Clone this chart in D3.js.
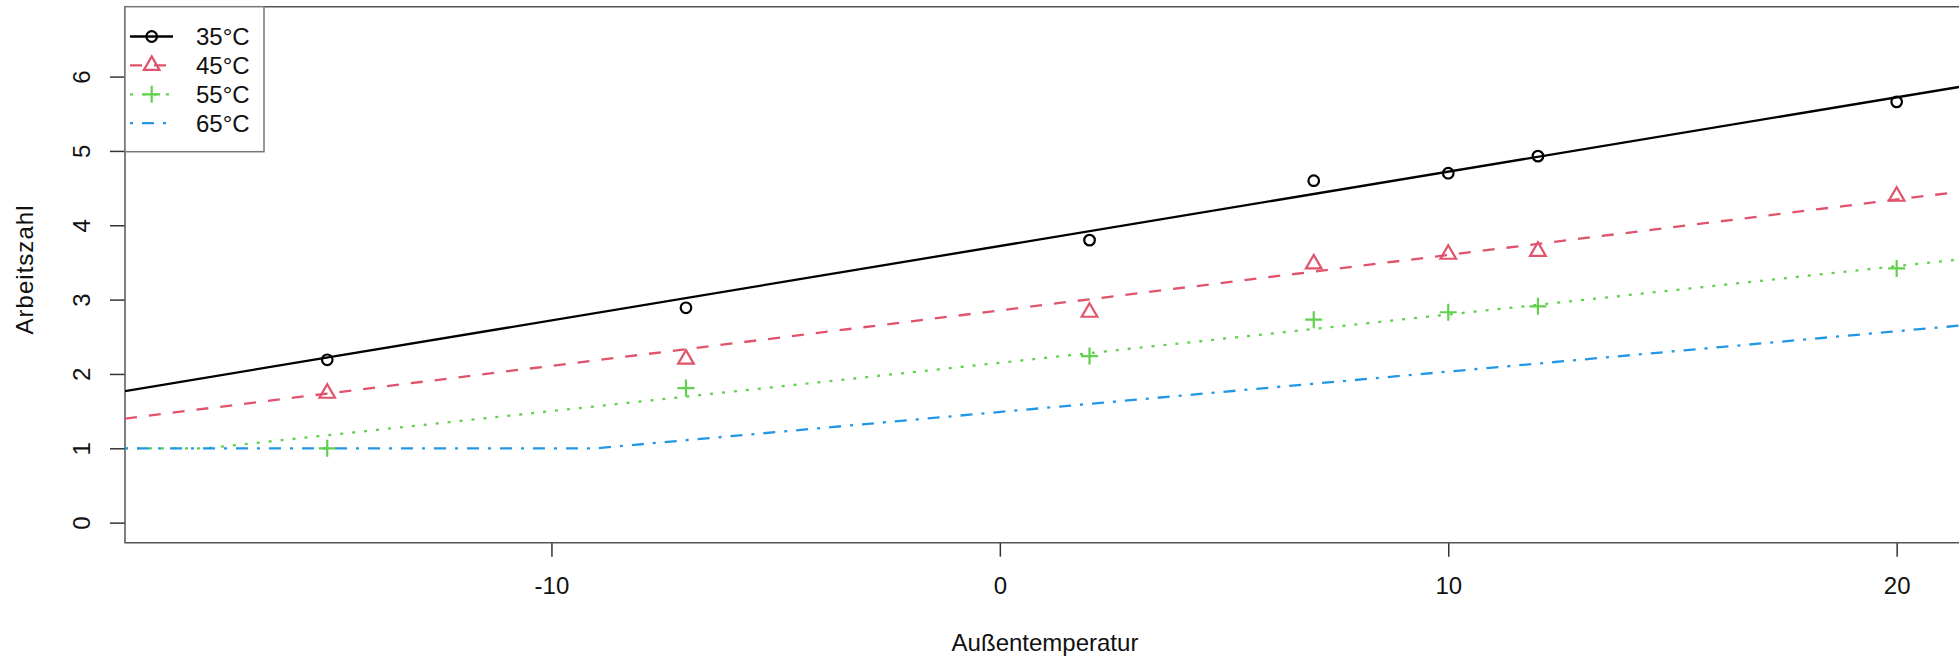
<!DOCTYPE html>
<html>
<head>
<meta charset="utf-8">
<script src="https://cdn.jsdelivr.net/npm/d3@7"></script>
<style>
  html, body { margin: 0; padding: 0; background: #fff; overflow: hidden; }
  svg { display: block; font-family: "Liberation Sans", Arial, Helvetica, sans-serif; }
</style>
</head>
<body>
<div id="chart"></div>
<script>
// Measured points (Außentemperatur vs. Arbeitszahl)
var temps = [-15, -7, 2, 7, 10, 12, 20];
var az35 = [2.19, 2.89, 3.80, 4.60, 4.70, 4.93, 5.66];
var az45 = [1.74, 2.20, 2.83, 3.48, 3.61, 3.65, 4.39];
var az55 = [1.00, 1.81, 2.24, 2.73, 2.83, 2.91, 3.42];

// Fitted lines (vertices, clamped at 1)
var fitX35 = [-19.51, 21.39];
var fit35 = [1.77, 5.86];
var fitX45 = [-19.51, 21.39];
var fit45 = [1.40, 4.45];
var fitX55 = [-19.51, -17.7, 21.39];
var fit55 = [1.00, 1.00, 3.54];
var fitX65 = [-19.51, -9.0, 21.39];
var fit65 = [1.00, 1.00, 2.65];

var seriesNames = ["35°C", "45°C", "55°C", "65°C"];
var xTicks = [-10, 0, 10, 20];
var yTicks = [0, 1, 2, 3, 4, 5, 6];

// styling per series
var colors = ["#000000", "#DF536B", "#61D04F", "#2297E6"];
var dashes = [null, "12,12", "3,9", "3,9,12,9"];
var markers = ["circle", "triangle", "plus", null];

var svgWidth = 1959;
var svgHeight = 656;
var plot = { left: 125, top: 6.7, bottom: 542.7, right: 1959 };

var svg = d3.select("#chart")
  .append("svg")
  .attr("width", svgWidth)
  .attr("height", svgHeight);

var xScale = d3.scaleLinear()
  .domain([-19.51, 21.39])
  .range([plot.left, plot.right]);
var yScale = d3.scaleLinear()
  .domain([-0.27, 6.94])
  .range([plot.bottom, plot.top]);

svg.append("clipPath")
  .attr("id", "plotclip")
  .append("rect")
  .attr("x", plot.left)
  .attr("y", plot.top)
  .attr("width", plot.right - plot.left + 10)
  .attr("height", plot.bottom - plot.top);

// x axis (plain hyphen for negatives, like R)
var xAxis = svg.append("g")
  .attr("transform", `translate(0, ${plot.bottom})`)
  .call(d3.axisBottom(xScale).tickValues(xTicks).tickSize(14).tickFormat(d => String(d)));
xAxis.select(".domain").remove();
xAxis.selectAll("line").attr("stroke", "#333").attr("stroke-width", 1.5);
xAxis.selectAll("text")
  .attr("y", 51.3)
  .attr("dy", null)
  .attr("fill", "#111")
  .style("font-size", "24px");

// y axis, labels turned like R does
var yAxis = svg.append("g")
  .attr("transform", `translate(${plot.left}, 0)`)
  .call(d3.axisLeft(yScale).tickValues(yTicks).tickSize(15));
yAxis.select(".domain").remove();
yAxis.selectAll("line").attr("stroke", "#333").attr("stroke-width", 1.5);
yAxis.selectAll("text")
  .attr("x", null)
  .attr("dy", null)
  .attr("transform", "translate(-35, 0) rotate(-90)")
  .attr("text-anchor", "middle")
  .attr("fill", "#111")
  .style("font-size", "24px");

// plot box (right side is cut off by the window)
svg.append("path")
  .attr("d", `M${plot.right + 5},${plot.top}H${plot.left}V${plot.bottom}H${plot.right + 5}`)
  .attr("fill", "none")
  .attr("stroke", "#555")
  .attr("stroke-width", 1.5);

// axis titles
svg.append("text")
  .attr("x", 1045)
  .attr("y", 650.5)
  .attr("text-anchor", "middle")
  .attr("fill", "#111")
  .style("font-size", "24px")
  .text("Außentemperatur");
svg.append("text")
  .attr("transform", "translate(33, 270) rotate(-90)")
  .attr("text-anchor", "middle")
  .attr("textLength", 129)
  .attr("lengthAdjust", "spacing")
  .attr("fill", "#111")
  .style("font-size", "24px")
  .text("Arbeitszahl");

var chartGroup = svg.append("g").attr("clip-path", "url(#plotclip)");

var line = d3.line()
  .x(d => xScale(d[0]))
  .y(d => yScale(d[1]));

var fits = [
  d3.zip(fitX35, fit35),
  d3.zip(fitX45, fit45),
  d3.zip(fitX55, fit55),
  d3.zip(fitX65, fit65)
];
fits.forEach(function(f, i) {
  chartGroup.append("path")
    .datum(f)
    .attr("d", line)
    .attr("fill", "none")
    .attr("stroke", colors[i])
    .attr("stroke-width", 2.3)
    .attr("stroke-dasharray", dashes[i]);
});

// marker drawing
function drawMarker(g, type, cx, cy, color) {
  if (type === "circle") {
    g.append("circle")
      .attr("cx", cx).attr("cy", cy).attr("r", 5.3)
      .attr("fill", "none").attr("stroke", color).attr("stroke-width", 2.2);
  } else if (type === "triangle") {
    var r = 9, xc = r * 0.866, yc = r / 2;
    g.append("path")
      .attr("d", `M${cx},${cy - r}L${cx + xc},${cy + yc}L${cx - xc},${cy + yc}Z`)
      .attr("fill", "none").attr("stroke", color).attr("stroke-width", 2.2);
  } else if (type === "plus") {
    var h = 8.5;
    g.append("path")
      .attr("d", `M${cx - h},${cy}H${cx + h}M${cx},${cy - h}V${cy + h}`)
      .attr("fill", "none").attr("stroke", color).attr("stroke-width", 2.2);
  }
}

var pointSets = [az35, az45, az55];
pointSets.forEach(function(vals, i) {
  temps.forEach(function(t, j) {
    drawMarker(chartGroup, markers[i], xScale(t), yScale(vals[j]), colors[i]);
  });
});

// legend, top left corner of the plot
var legend = svg.append("g");
legend.append("rect")
  .attr("x", plot.left)
  .attr("y", plot.top)
  .attr("width", 139)
  .attr("height", 145)
  .attr("fill", "#fff")
  .attr("stroke", "#777")
  .attr("stroke-width", 1.5);
seriesNames.forEach(function(name, i) {
  var cy = 36.5 + i * 28.9;
  legend.append("line")
    .attr("x1", 130).attr("x2", 173)
    .attr("y1", cy).attr("y2", cy)
    .attr("stroke", colors[i])
    .attr("stroke-width", 2.3)
    .attr("stroke-dasharray", dashes[i]);
  drawMarker(legend, markers[i], 151.7, cy, colors[i]);
  legend.append("text")
    .attr("x", 196)
    .attr("y", cy + 8.5)
    .attr("fill", "#111")
    .style("font-size", "24px")
    .text(name);
});
</script>
</body>
</html>
